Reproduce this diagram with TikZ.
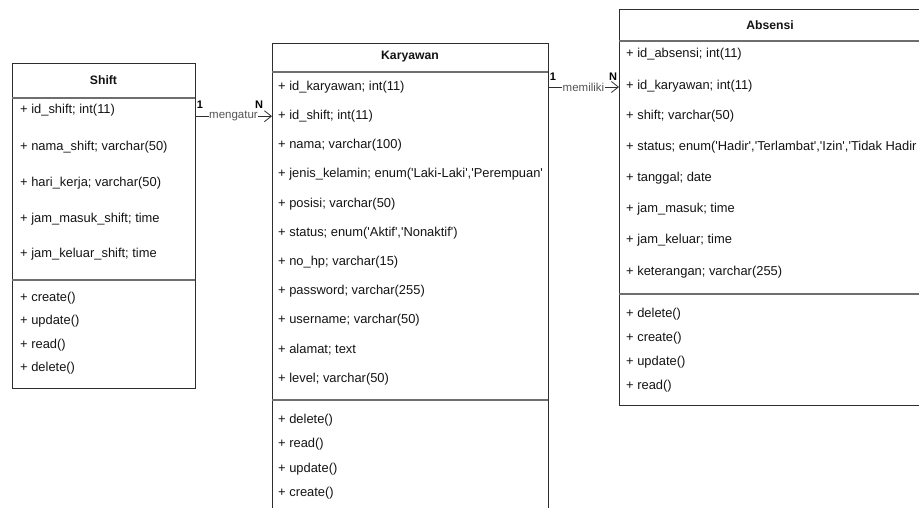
\documentclass[tikz,border=0pt]{standalone}
\usepackage{fontspec}
\setmainfont{Liberation Sans}[Ligatures=TeXOff]
\usetikzlibrary{arrows.meta}
\definecolor{ink}{HTML}{141414}
\definecolor{frame}{HTML}{2E2E2E}
\definecolor{rulecol}{HTML}{6E6E6E}
\definecolor{lbl}{HTML}{555555}

\begin{document}
\begin{tikzpicture}[x=1pt,y=-1pt,
  classbox/.style={draw=frame, line width=0.9pt, fill=white, rectangle,
                   inner sep=0pt, outer sep=0pt, anchor=north west},
  divider/.style={draw=rulecol, line width=1.3pt},
  title/.style={font=\fontsize{12.2}{14}\selectfont\bfseries, text=ink, inner sep=0pt},
  row/.style={font=\fontsize{12.9}{15}\selectfont, text=ink, anchor=west, inner sep=0pt},
  rel/.style={draw=frame, line width=0.8pt, -{Straight Barb[length=7pt,width=11pt]}},
  rellabel/.style={font=\fontsize{11.5}{13}\selectfont, text=lbl, fill=white, inner sep=0.6pt},
  mult/.style={font=\fontsize{11}{13}\selectfont\bfseries, text=black, inner sep=0pt},
]
\useasboundingbox (0,0) rectangle (919,507);
\clip (0,0) rectangle (919,507);

% ---------- Shift ----------
\node[classbox, minimum width=183pt, minimum height=325pt] (shift) at (12,63) {};
\draw[divider] (shift.west |- 0,98) -- (shift.east |- 0,98);
\draw[divider] (shift.west |- 0,280) -- (shift.east |- 0,280);
\node[title] (shiftT) at (103.5,80) {Shift};
\node[row] (s1) at (20,110)   {+ id\_shift; int(11)};
\node[row] (s2) at (20,147)   {+ nama\_shift; varchar(50)};
\node[row] (s3) at (20,183)   {+ hari\_kerja; varchar(50)};
\node[row] (s4) at (20,219)   {+ jam\_masuk\_shift; time};
\node[row] (s5) at (20,254)   {+ jam\_keluar\_shift; time};
\node[row] (s6) at (20,298)   {+ create()};
\node[row] (s7) at (20,321.5) {+ update()};
\node[row] (s8) at (20,345)   {+ read()};
\node[row] (s9) at (20,368.5) {+ delete()};

% ---------- Karyawan ----------
\node[classbox, minimum width=276pt, minimum height=475pt] (kar) at (272,43) {};
\draw[divider] (kar.west |- 0,72) -- (kar.east |- 0,72);
\draw[divider] (kar.west |- 0,400) -- (kar.east |- 0,400);
\node[title] (karT) at (410,57) {Karyawan};
\node[row] (k1)  at (278,87)    {+ id\_karyawan; int(11)};
\node[row] (k2)  at (278,116.2) {+ id\_shift; int(11)};
\node[row] (k3)  at (278,145.4) {+ nama; varchar(100)};
\node[row] (k4)  at (278,174.6) {+ jenis\_kelamin; enum('Laki-Laki','Perempuan'};
\node[row] (k5)  at (278,203.8) {+ posisi; varchar(50)};
\node[row] (k6)  at (278,233)   {+ status; enum('Aktif','Nonaktif')};
\node[row] (k7)  at (278,262.2) {+ no\_hp; varchar(15)};
\node[row] (k8)  at (278,291.4) {+ password; varchar(255)};
\node[row] (k9)  at (278,320.6) {+ username; varchar(50)};
\node[row] (k10) at (278,349.8) {+ alamat; text};
\node[row] (k11) at (278,379)   {+ level; varchar(50)};
\node[row] (k12) at (278,420)   {+ delete()};
\node[row] (k13) at (278,444.5) {+ read()};
\node[row] (k14) at (278,469)   {+ update()};
\node[row] (k15) at (278,493.5) {+ create()};

% ---------- Absensi ----------
\node[classbox, minimum width=302pt, minimum height=396pt] (abs) at (619,9) {};
\draw[divider] (abs.west |- 0,41) -- (abs.east |- 0,41);
\draw[divider] (abs.west |- 0,294) -- (abs.east |- 0,294);
\node[title] (absT) at (770,25) {Absensi};
\node[row] (a1)  at (626,54)  {+ id\_absensi; int(11)};
\node[row] (a2)  at (626,86)  {+ id\_karyawan; int(11)};
\node[row] (a3)  at (626,116) {+ shift; varchar(50)};
\node[row] (a4)  at (626,147) {+ status; enum('Hadir','Terlambat','Izin','Tidak Hadir};
\node[row] (a5)  at (626,178) {+ tanggal; date};
\node[row] (a6)  at (626,209) {+ jam\_masuk; time};
\node[row] (a7)  at (626,240) {+ jam\_keluar; time};
\node[row] (a8)  at (626,272) {+ keterangan; varchar(255)};
\node[row] (a9)  at (626,314) {+ delete()};
\node[row] (a10) at (626,338) {+ create()};
\node[row] (a11) at (626,362) {+ update()};
\node[row] (a12) at (626,386) {+ read()};

% ---------- relations ----------
\draw[rel] (shift.east |- k2) -- (kar.west |- k2)
  node[midway, rellabel] (lab1) {mengatur};
\node[mult] (m1a) at (200,105) {1};
\node[mult] (m1b) at (259,105) {N};

\draw[rel] (kar.east |- k1) -- (abs.west |- k1)
  node[midway, rellabel] (lab2) {memiliki};
\node[mult] (m2a) at (553,77) {1};
\node[mult] (m2b) at (613,77) {N};
\end{tikzpicture}
\end{document}
